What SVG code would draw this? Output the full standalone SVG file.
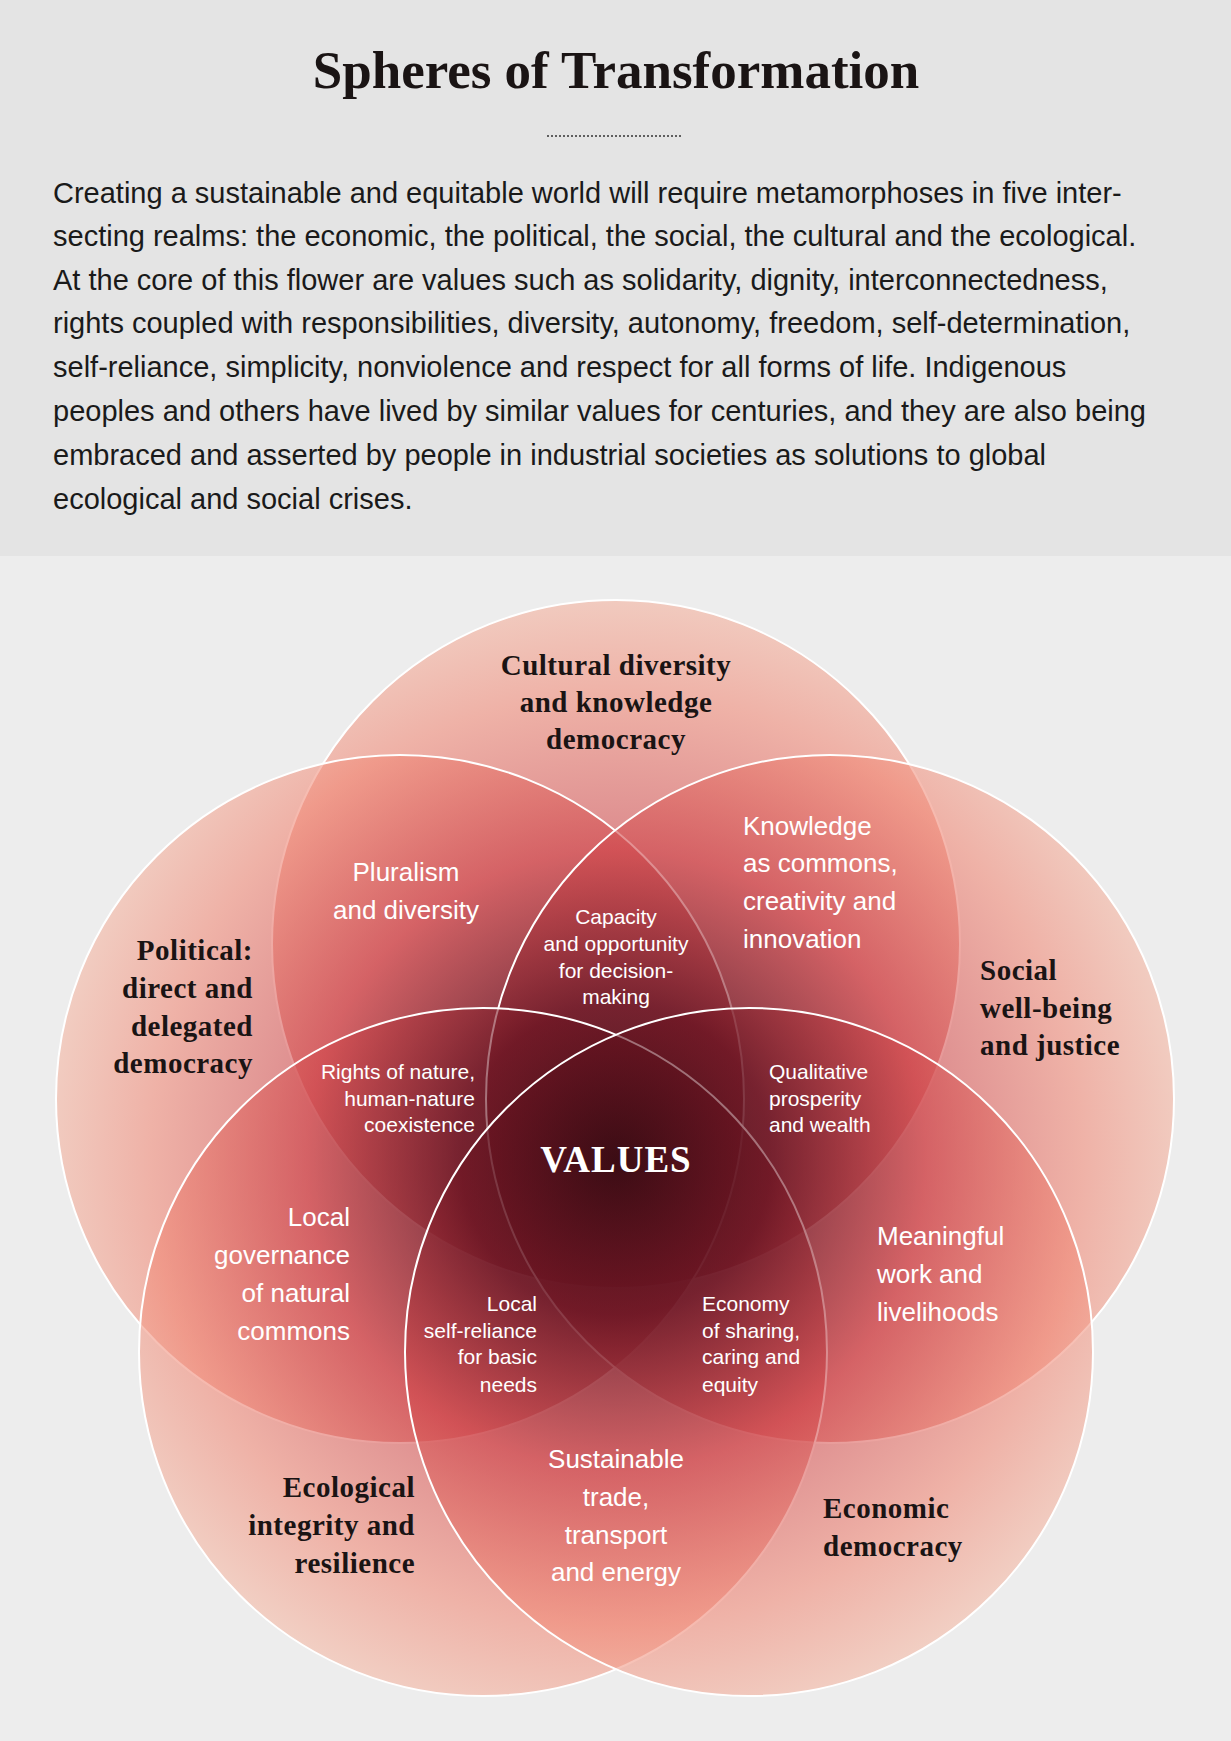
<svg xmlns="http://www.w3.org/2000/svg" width="1231" height="1741" viewBox="0 0 1231 1741">
<style>
.t{font-family:"Liberation Serif",serif;font-weight:bold;fill:#1a1414}
.p{font-family:"Liberation Sans",Arial,sans-serif;font-size:29px;fill:#1a1a1a}
.w{font-family:"Liberation Sans",Arial,sans-serif;font-size:26px;fill:#fff}
.s{font-family:"Liberation Sans",Arial,sans-serif;font-size:21px;fill:#fff}
.h{font-size:29px;letter-spacing:0.5px}
.c{fill:url(#g);stroke:#fff;stroke-width:2;fill-opacity:0.6}
</style>
<defs>
<radialGradient id="g" gradientUnits="userSpaceOnUse" cx="616" cy="1160" r="620">
<stop offset="0" stop-color="#3a0a12"/>
<stop offset="0.25" stop-color="#6e1422"/>
<stop offset="0.5" stop-color="#d0484c"/>
<stop offset="0.75" stop-color="#f08a78"/>
<stop offset="1" stop-color="#f6cdb9"/>
</radialGradient>
</defs>
<rect width="1231" height="1741" fill="#ededed"/>
<rect width="1231" height="556" fill="#e4e4e4"/>
<text class="t" x="616" y="88" text-anchor="middle" font-size="53">Spheres of Transformation</text>
<line x1="547" y1="136" x2="683" y2="136" stroke="#333" stroke-width="1.5" stroke-dasharray="2,2"/>
<g class="p">
<text x="53" y="203">Creating a sustainable and equitable world will require metamorphoses in five inter-</text>
<text x="53" y="246">secting realms: the economic, the political, the social, the cultural and the ecological.</text>
<text x="53" y="290">At the core of this flower are values such as solidarity, dignity, interconnectedness,</text>
<text x="53" y="333">rights coupled with responsibilities, diversity, autonomy, freedom, self-determination,</text>
<text x="53" y="377">self-reliance, simplicity, nonviolence and respect for all forms of life. Indigenous</text>
<text x="53" y="421">peoples and others have lived by similar values for centuries, and they are also being</text>
<text x="53" y="465">embraced and asserted by people in industrial societies as solutions to global</text>
<text x="53" y="509">ecological and social crises.</text>
</g>
<g id="spheres">
<circle id="cultural" class="c" cx="616" cy="944" r="344"/>
<circle id="political" class="c" cx="400" cy="1099" r="344"/>
<circle id="social" class="c" cx="830" cy="1099" r="344"/>
<circle id="ecological" class="c" cx="483" cy="1352" r="344"/>
<circle id="economic" class="c" cx="749" cy="1352" r="344"/>
</g>
<g id="heads" class="t h">
<text x="616" y="675" text-anchor="middle">Cultural diversity</text>
<text x="616" y="712" text-anchor="middle">and knowledge</text>
<text x="616" y="749" text-anchor="middle">democracy</text>
<text x="253" y="960" text-anchor="end">Political:</text>
<text x="253" y="998" text-anchor="end">direct and</text>
<text x="253" y="1036" text-anchor="end">delegated</text>
<text x="253" y="1073" text-anchor="end">democracy</text>
<text x="980" y="980">Social</text>
<text x="980" y="1018">well-being</text>
<text x="980" y="1055">and justice</text>
<text x="415" y="1497" text-anchor="end">Ecological</text>
<text x="415" y="1535" text-anchor="end">integrity and</text>
<text x="415" y="1573" text-anchor="end">resilience</text>
<text x="823" y="1518">Economic</text>
<text x="823" y="1556">democracy</text>
</g>
<text id="values" class="t" x="616" y="1172" text-anchor="middle" font-size="37" letter-spacing="1" style="fill:#fff">VALUES</text>
<g id="labels">
<g class="w" text-anchor="middle"><text x="406" y="881">Pluralism</text><text x="406" y="919">and diversity</text></g>
<g class="w"><text x="743" y="835">Knowledge</text><text x="743" y="872">as commons,</text><text x="743" y="910">creativity and</text><text x="743" y="948">innovation</text></g>
<g class="w"><text x="877" y="1245">Meaningful</text><text x="877" y="1283">work and</text><text x="877" y="1321">livelihoods</text></g>
<g class="w" text-anchor="middle"><text x="616" y="1468">Sustainable</text><text x="616" y="1506">trade,</text><text x="616" y="1544">transport</text><text x="616" y="1581">and energy</text></g>
<g class="w" text-anchor="end"><text x="350" y="1226">Local</text><text x="350" y="1264">governance</text><text x="350" y="1302">of natural</text><text x="350" y="1340">commons</text></g>
<g class="s" text-anchor="middle"><text x="616" y="924">Capacity</text><text x="616" y="951">and opportunity</text><text x="616" y="978">for decision-</text><text x="616" y="1004">making</text></g>
<g class="s" text-anchor="end"><text x="475" y="1079">Rights of nature,</text><text x="475" y="1106">human-nature</text><text x="475" y="1132">coexistence</text></g>
<g class="s"><text x="769" y="1079">Qualitative</text><text x="769" y="1106">prosperity</text><text x="769" y="1132">and wealth</text></g>
<g class="s" text-anchor="end"><text x="537" y="1311">Local</text><text x="537" y="1338">self-reliance</text><text x="537" y="1364">for basic</text><text x="537" y="1392">needs</text></g>
<g class="s"><text x="702" y="1311">Economy</text><text x="702" y="1338">of sharing,</text><text x="702" y="1364">caring and</text><text x="702" y="1392">equity</text></g>
</g>
</svg>
